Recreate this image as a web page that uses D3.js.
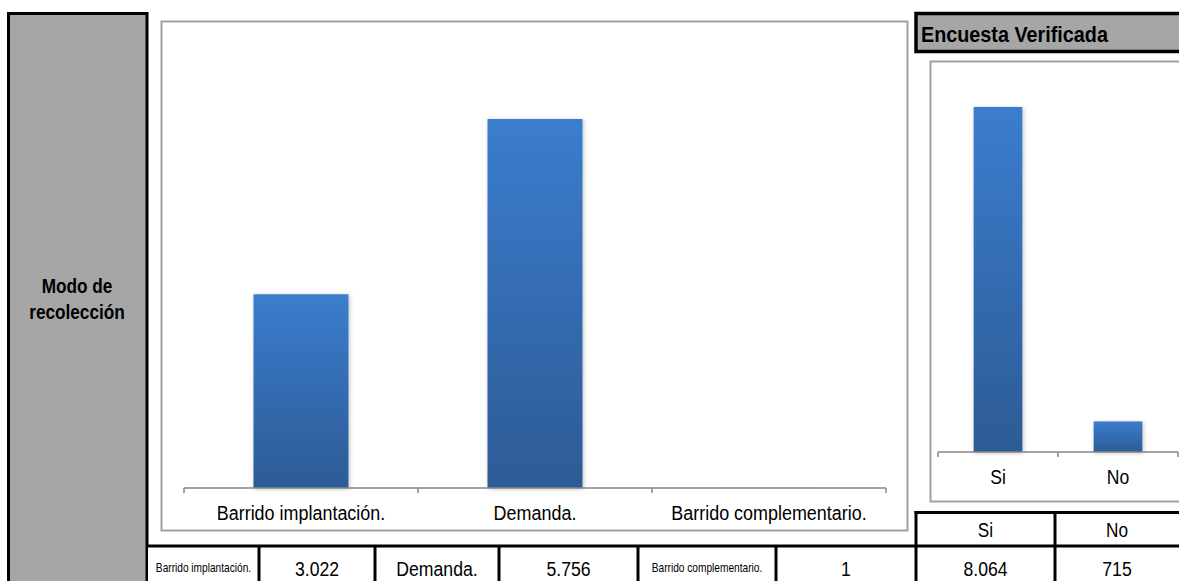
<!DOCTYPE html>
<html><head><meta charset="utf-8">
<script src="https://cdn.jsdelivr.net/npm/d3@7"></script>
<style>
body{margin:0;background:#fff}
svg{display:block}
text{font-family:"Liberation Sans",Arial,Helvetica,sans-serif;fill:#000}
</style>
</head><body>
<svg id="c" width="1179" height="581"></svg>
<script>
// ---- data ----
const modoCategories = ["Barrido implantación.", "Demanda.", "Barrido complementario."];
const modoValues = [3022, 5756, 1];
const modoLabels = ["3.022", "5.756", "1"];
const encuestaCategories = ["Si", "No"];
const encuestaValues = [8064, 715];
const encuestaLabels = ["8.064", "715"];
const sideTitle = ["Modo de", "recolección"];
const rightTitle = "Encuesta Verificada";

const svg = d3.select("#c");
const defs = svg.append("defs");
const grad = defs.append("linearGradient").attr("id", "barGrad")
  .attr("x1", 0).attr("y1", 0).attr("x2", 0).attr("y2", 1);
grad.append("stop").attr("offset", "0%").attr("stop-color", "#3b7dcd");
grad.append("stop").attr("offset", "100%").attr("stop-color", "#2c5b95");
const sh = defs.append("filter").attr("id", "shadow").attr("x", "-20%").attr("y", "-5%").attr("width", "140%").attr("height", "115%");
sh.append("feDropShadow").attr("dx", 1).attr("dy", 1).attr("stdDeviation", 2).attr("flood-color", "#000").attr("flood-opacity", 0.25);

function squeeze(sel, k) {
  sel.each(function () {
    const len = this.getComputedTextLength();
    d3.select(this).attr("textLength", len * k).attr("lengthAdjust", "spacingAndGlyphs");
  });
}

// ---- left gray panel ----
svg.append("rect").attr("x", 8.5).attr("y", 13.5).attr("width", 138.5).attr("height", 600)
  .attr("fill", "#a6a6a6").attr("stroke", "#000").attr("stroke-width", 3);
const st = svg.append("g").selectAll("text").data(sideTitle).join("text")
  .attr("text-anchor", "middle").attr("font-weight", "bold").attr("font-size", 20)
  .attr("x", 77).attr("y", (d, i) => 293 + i * 26).text(d => d);
squeeze(st, 0.86);

// ---- main chart ----
svg.append("rect").attr("x", 161.5).attr("y", 21.5).attr("width", 746).attr("height", 509)
  .attr("fill", "#fff").attr("stroke", "#a0a0a0").attr("stroke-width", 2);

const x = d3.scaleBand().domain(modoCategories).range([184, 886]);
const y = d3.scaleLinear().domain([0, 7000]).range([488, 488 - 7000 * 369 / 5756]);
const bw = x.bandwidth() * 0.406;

svg.append("g").selectAll("rect").data(modoCategories).join("rect")
  .attr("x", d => x(d) + (x.bandwidth() - bw) / 2)
  .attr("y", (d, i) => y(modoValues[i]))
  .attr("width", bw)
  .attr("height", (d, i) => y(0) - y(modoValues[i]))
  .attr("fill", "url(#barGrad)")
  .attr("filter", "url(#shadow)");

const ax = svg.append("g").attr("transform", `translate(0,${y(0)})`)
  .call(d3.axisBottom(x).tickSize(0).tickPadding(18));
ax.select(".domain").remove();
ax.selectAll("text").attr("font-size", 19.5).attr("font-family", null).attr("fill", "#000").attr("dy", "0.71em");
squeeze(ax.selectAll("text"), 0.92);
const bounds = modoCategories.map(c => x(c)).concat([x.range()[1]]);
svg.append("line").attr("x1", x.range()[0]).attr("x2", x.range()[1]).attr("y1", y(0)).attr("y2", y(0))
  .attr("stroke", "#868686").attr("stroke-width", 1.5);
svg.append("g").selectAll("line").data(bounds).join("line")
  .attr("x1", d => d).attr("x2", d => d).attr("y1", y(0)).attr("y2", y(0) + 5)
  .attr("stroke", "#868686").attr("stroke-width", 1.5);

// ---- right header ----
svg.append("rect").attr("x", 916).attr("y", 13.5).attr("width", 300).attr("height", 38)
  .attr("fill", "#a6a6a6").attr("stroke", "#000").attr("stroke-width", 3.5);
const rt = svg.append("text").attr("x", 921).attr("y", 41.5).attr("font-weight", "bold").attr("font-size", 21.5).text(rightTitle);
squeeze(rt, 0.92);

// ---- right chart ----
svg.append("rect").attr("x", 930.5).attr("y", 61.5).attr("width", 300).attr("height", 440)
  .attr("fill", "#fff").attr("stroke", "#a0a0a0").attr("stroke-width", 2);
const x2 = d3.scaleBand().domain(encuestaCategories).range([938, 1178]);
const y2 = d3.scaleLinear().domain([0, 9000]).range([452, 452 - 9000 * 345 / 8064]);
const bw2 = x2.bandwidth() * 0.406;
svg.append("g").selectAll("rect").data(encuestaCategories).join("rect")
  .attr("x", d => x2(d) + (x2.bandwidth() - bw2) / 2)
  .attr("y", (d, i) => y2(encuestaValues[i]))
  .attr("width", bw2)
  .attr("height", (d, i) => y2(0) - y2(encuestaValues[i]))
  .attr("fill", "url(#barGrad)")
  .attr("filter", "url(#shadow)");
const ax2 = svg.append("g").attr("transform", `translate(0,${y2(0)})`)
  .call(d3.axisBottom(x2).tickSize(0).tickPadding(18));
ax2.select(".domain").remove();
ax2.selectAll("text").attr("font-size", 19.5).attr("font-family", null).attr("fill", "#000").attr("dy", "0.71em");
squeeze(ax2.selectAll("text"), 0.9);
const bounds2 = encuestaCategories.map(c => x2(c)).concat([x2.range()[1]]);
svg.append("line").attr("x1", x2.range()[0]).attr("x2", x2.range()[1]).attr("y1", y2(0)).attr("y2", y2(0))
  .attr("stroke", "#868686").attr("stroke-width", 1.5);
svg.append("g").selectAll("line").data(bounds2).join("line")
  .attr("x1", d => d).attr("x2", d => d).attr("y1", y2(0)).attr("y2", y2(0) + 5)
  .attr("stroke", "#868686").attr("stroke-width", 1.5);

// ---- table ----
const colEdges = [148, 259, 375, 499, 638, 776, 916, 1055, 1179];
const rowCells = [modoCategories[0], modoLabels[0], modoCategories[1], modoLabels[1],
  modoCategories[2], modoLabels[2], encuestaLabels[0], encuestaLabels[1]];
svg.append("rect").attr("x", 148).attr("y", 546).attr("width", 1031).attr("height", 40).attr("fill", "#fff");
svg.append("rect").attr("x", 916).attr("y", 512).attr("width", 263).attr("height", 34).attr("fill", "#fff");

const cells = svg.append("g").selectAll("text").data(rowCells).join("text")
  .attr("x", (d, i) => (colEdges[i] + colEdges[i + 1]) / 2)
  .attr("y", d => d.length > 12 ? 572 : 575.5)
  .attr("text-anchor", "middle")
  .attr("font-size", d => d.length > 12 ? 13 : 20.5)
  .text(d => d);
cells.each(function (d) { squeeze(d3.select(this), d.length > 12 ? 0.78 : 0.86); });

const hdr = svg.append("g").selectAll("text").data(encuestaCategories).join("text")
  .attr("x", (d, i) => (colEdges[6 + i] + colEdges[7 + i]) / 2)
  .attr("y", 537)
  .attr("text-anchor", "middle").attr("font-size", 20).attr("font-family", null).text(d => d);
squeeze(hdr, 0.86);

const lines = svg.append("g").attr("stroke", "#000").attr("stroke-width", 3);
lines.append("line").attr("x1", 146).attr("x2", 1179).attr("y1", 546).attr("y2", 546);
lines.append("line").attr("x1", 914.5).attr("x2", 1179).attr("y1", 512.5).attr("y2", 512.5);
lines.selectAll(".v").data(colEdges.slice(1, 6)).join("line").attr("class", "v")
  .attr("x1", d => d).attr("x2", d => d).attr("y1", 545).attr("y2", 581);
lines.selectAll(".v2").data(colEdges.slice(6, 8)).join("line").attr("class", "v2")
  .attr("x1", d => d).attr("x2", d => d).attr("y1", 511).attr("y2", 581);
</script>
</body></html>
